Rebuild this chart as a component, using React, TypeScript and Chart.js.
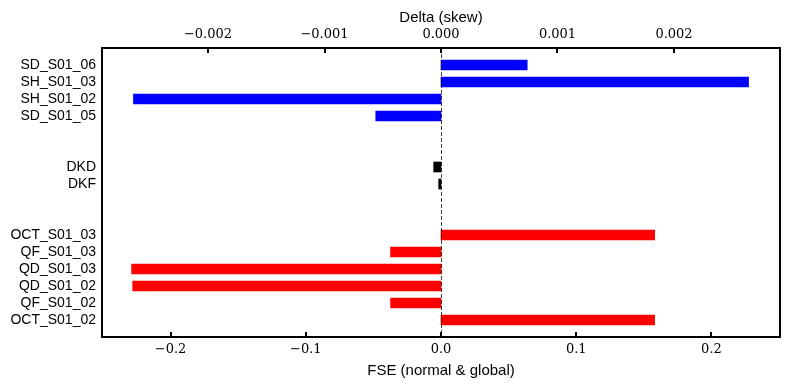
import React, { useEffect, useRef } from "react";
import { Chart, registerables } from "chart.js";

Chart.register(...registerables);

// ---- data ----
const SEXT_NAMES = ["SD_S01_06", "SH_S01_03", "SH_S01_02", "SD_S01_05"];
const SEXT_DELTA = [0.00074, 0.00264, -0.00264, -0.00056];
const DK_NAMES = ["DKD", "DKF"];
const DK_FSE = [-0.0054, -0.0017];
const QUAD_NAMES = ["OCT_S01_03", "QF_S01_03", "QD_S01_03", "QD_S01_02", "QF_S01_02", "OCT_S01_02"];
const QUAD_FSE = [0.158, -0.0373, -0.2288, -0.228, -0.0373, 0.158];
const DELTA_TICKS = [-0.002, -0.001, 0, 0.001, 0.002];
const FSE_TICKS = [-0.2, -0.1, 0, 0.1, 0.2];

// category rows: blank padding rows surround and separate the groups
const LABELS: string[] = ["", ...SEXT_NAMES, "", "", ...DK_NAMES, "", "", ...QUAD_NAMES, ""];
const fill = (names: string[], vals: number[]) =>
  LABELS.map((l) => {
    const i = names.indexOf(l);
    return i >= 0 && l !== "" ? vals[i] : null;
  });

const minus = (s: string) => s.replace("-", "\u2212");

const framePlugin = {
  id: "frame",
  afterDatasetsDraw(chart: any) {
    const { ctx, chartArea } = chart;
    const { left, right, top, bottom } = chartArea;
    ctx.save();
    // zero dashed line
    const x0 = chart.scales.x.getPixelForValue(0);
    ctx.strokeStyle = "rgba(0,0,0,0.75)";
    ctx.lineWidth = 1;
    ctx.setLineDash([4, 2]);
    ctx.beginPath();
    ctx.moveTo(Math.round(x0) + 0.5, top);
    ctx.lineTo(Math.round(x0) + 0.5, bottom);
    ctx.stroke();
    ctx.setLineDash([]);
    // inward ticks
    ctx.strokeStyle = "#000";
    ctx.lineWidth = 2;
    chart.scales.x.ticks.forEach((t: any) => {
      const px = Math.round(chart.scales.x.getPixelForValue(t.value));
      ctx.beginPath();
      ctx.moveTo(px, bottom);
      ctx.lineTo(px, bottom - 5);
      ctx.stroke();
    });
    chart.scales.x2.ticks.forEach((t: any) => {
      const px = Math.round(chart.scales.x2.getPixelForValue(t.value));
      ctx.beginPath();
      ctx.moveTo(px, top);
      ctx.lineTo(px, top + 5);
      ctx.stroke();
    });
    // frame
    ctx.lineWidth = 2;
    ctx.strokeRect(left, top, right - left, bottom - top);
    ctx.restore();
  },
};

export default function App() {
  const ref = useRef<HTMLCanvasElement>(null);
  useEffect(() => {
    if (!ref.current) return;
    const serif = { family: "DejaVu Serif", size: 13 };
    const sans = { family: "Liberation Sans", size: 14 };
    const sansTitle = { family: "Liberation Sans", size: 15 };
    const chart = new Chart(ref.current, {
      type: "bar",
      data: {
        labels: LABELS,
        datasets: [
          {
            label: "sext",
            data: fill(SEXT_NAMES, SEXT_DELTA),
            xAxisID: "x2",
            backgroundColor: "#0000ff",
            grouped: false,
            barThickness: 10,
          } as any,
          {
            label: "dk",
            data: fill(DK_NAMES, DK_FSE),
            xAxisID: "x",
            backgroundColor: "#000000",
            grouped: false,
            barThickness: 10,
          },
          {
            label: "quad",
            data: fill(QUAD_NAMES, QUAD_FSE),
            xAxisID: "x",
            backgroundColor: "#ff0000",
            grouped: false,
            barThickness: 10,
          },
        ],
      },
      options: {
        indexAxis: "y",
        animation: false,
        responsive: false,
        maintainAspectRatio: false,
        layout: { padding: { left: 0, right: 10, top: 0, bottom: 0 } },
        plugins: { legend: { display: false }, tooltip: { enabled: false } },
        scales: {
          y: {
            type: "category",
            offset: false,
            grid: { display: false, drawTicks: false },
            border: { display: false },
            ticks: { color: "#000", font: sans, padding: 6, autoSkip: false },
            afterFit: (s: any) => {
              s.width = 102;
            },
          },
          x: {
            type: "linear",
            position: "bottom",
            min: -0.2507,
            max: 0.2507,
            grid: { display: false, drawTicks: false },
            border: { display: false },
            afterBuildTicks: (s: any) => {
              s.ticks = FSE_TICKS.map((v) => ({ value: v }));
            },
            ticks: {
              color: "#000",
              font: serif,
              padding: 5,
              maxRotation: 0,
              callback: (v: any) => minus(Number(v).toFixed(1)),
            },
            title: {
              display: true,
              text: "FSE (normal & global)",
              color: "#000",
              font: sansTitle,
              padding: { top: 0, bottom: 10 },
            },
            afterFit: (s: any) => {
              s.height = 53;
            },
          },
          x2: {
            type: "linear",
            position: "top",
            min: -0.00291,
            max: 0.00291,
            grid: { display: false, drawTicks: false },
            border: { display: false },
            afterBuildTicks: (s: any) => {
              s.ticks = DELTA_TICKS.map((v) => ({ value: v }));
            },
            ticks: {
              color: "#000",
              font: serif,
              padding: 6,
              maxRotation: 0,
              callback: (v: any) => minus(Number(v).toFixed(3)),
            },
            title: {
              display: true,
              text: "Delta (skew)",
              color: "#000",
              font: sansTitle,
              padding: { top: 9, bottom: 0 },
            },
            afterFit: (s: any) => {
              s.height = 48;
            },
          },
        },
      } as any,
      plugins: [framePlugin],
    });
    return () => chart.destroy();
  }, []);
  return (
    <div style={{ position: "absolute", left: 0, top: 0, width: 790, height: 390, background: "#fff" }}>
      <canvas ref={ref} width={790} height={390} style={{ width: 790, height: 390 }} />
    </div>
  );
}
